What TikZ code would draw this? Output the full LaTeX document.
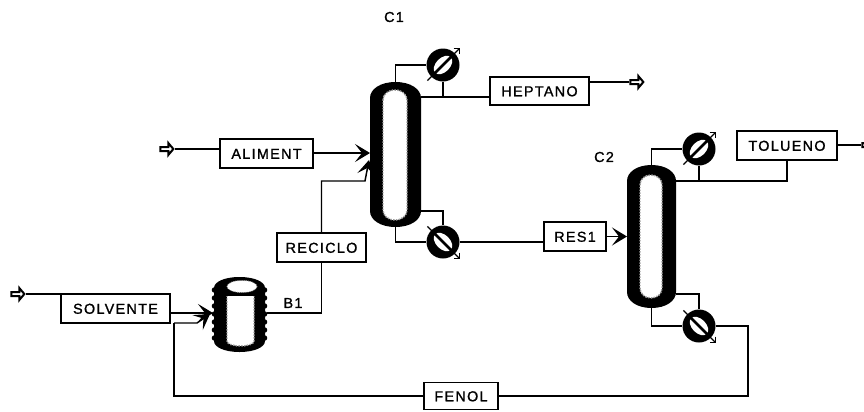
\documentclass[tikz,border=0pt]{standalone}
\usepackage{fontspec}
\setmainfont[LetterSpace=9,FakeBold=1.2]{Liberation Sans}
\usetikzlibrary{arrows.meta,shapes.arrows,calc}
\def\u{0.75pt}
\tikzset{
  x=0.75pt,y=-0.75pt,
  flow/.style={line width=1.1pt,line join=miter},
  feed/.style={flow,-{Stealth[length=15*\u,width=18*\u,inset=7*\u]}},
  lbl/.style={draw,line width=1.2pt,fill=white,inner sep=0pt,font=\fontsize{10.8}{12}\selectfont,text height=7.9pt,text depth=0pt},
  tag/.style={inner sep=0pt,font=\fontsize{10.8}{12}\selectfont},
  port/.style={single arrow,draw,fill=white,line width=1.5pt,inner sep=0pt,minimum height=13*\u,minimum width=12*\u,single arrow head extend=1.5pt,single arrow tip angle=100,shape border rotate=0},
  colanchor/.style={inner sep=0pt,minimum width=50*\u},
  hxdisk/.style={circle,fill=black,inner sep=0pt,minimum size=33*\u},
  hxline/.style={line width=1pt,-{Straight Barb[length=4*\u,width=8*\u]}},
  fuzz/.style={draw=gray!75,densely dotted,line width=1.1pt}
}
% name, x, y, rotation of the adjusting arrow
\newcommand{\hxchg}[4]{%
  \node[hxdisk] (#1) at (#2,#3) {};
  \begin{scope}[shift={(#2,#3)},rotate=#4]
    \fill[white] (0,0) ellipse (11 and 7);
    \draw[hxline] (-22,0) -- (24,0);
    \draw[line width=1.9pt] (-13,0) -- (13,0);
  \end{scope}}
% dome-ended capsule: left, top, right, bottom, end height
\newcommand{\capsule}[6]{%
  \pgfmathsetmacro\cm{(#1+#3)/2}
  \pgfmathsetmacro\ct{#2+#5}
  \pgfmathsetmacro\cb{#4-#5}
  \pgfmathsetmacro\cw{0.3*(#3-#1)}
  \path[#6] (#1,\ct) .. controls (#1,#2+0.45*#5) and (\cm-\cw,#2) .. (\cm,#2)
    .. controls (\cm+\cw,#2) and (#3,#2+0.45*#5) .. (#3,\ct)
    -- (#3,\cb) .. controls (#3,#4-0.45*#5) and (\cm+\cw,#4) .. (\cm,#4)
    .. controls (\cm-\cw,#4) and (#1,#4-0.45*#5) .. (#1,\cb) -- cycle;}
\begin{document}
\begin{tikzpicture}
\clip (0,0) rectangle (864,411);
\fill[white] (0,0) rectangle (864,411);

% columns
\node[colanchor,minimum height=145*\u] (c1) at (395.5,154.5) {};
\capsule{370}{82}{421}{227}{16}{fill=black}
\capsule{383}{90}{407}{220}{10}{fill=white,fuzz}
\node[colanchor,minimum height=143*\u] (c2) at (651.5,236.5) {};
\capsule{627}{165}{676}{308}{16}{fill=black}
\capsule{640}{175}{662}{298}{10}{fill=white,fuzz}

% vessel B1
\node[inner sep=0pt,minimum width=55*\u,minimum height=75*\u] (b1) at (239.5,314.5) {};
\capsule{214}{277}{265}{352}{11}{fill=black}
\foreach \yy in {290,298,...,340} {
  \fill[black] (214.5,\yy) circle (2.8);
  \fill[black] (264.5,\yy) circle (2.8);
}
\capsule{227}{290}{254}{346}{5}{fill=white,fuzz}
\fill[black] (224,287) rectangle (259,296);
\fill[white,draw=gray!70,densely dotted,line width=.6pt] (242,286.5) ellipse (15 and 6);

% heat exchangers
\hxchg{e1}{443}{65}{45}
\hxchg{e2}{443}{242}{-45}
\hxchg{e3}{699}{149}{45}
\hxchg{e4}{699}{326}{-45}

% boxes
\node[lbl,minimum width=99*\u,minimum height=28*\u] (hep) at (539.5,91) {HEPTANO};
\node[lbl,minimum width=93*\u,minimum height=29*\u] (ali) at (266.5,153.5) {ALIMENT};
\node[lbl,minimum width=89*\u,minimum height=29*\u] (rec) at (321.5,247.5) {RECICLO};
\node[lbl,minimum width=109*\u,minimum height=29*\u] (sol) at (115.5,308.5) {SOLVENTE};
\node[lbl,minimum width=62*\u,minimum height=29*\u] (res) at (575,236.5) {RES1};
\node[lbl,minimum width=100*\u,minimum height=29*\u] (tol) at (787,145.5) {TOLUENO};
\node[lbl,minimum width=74*\u,minimum height=27*\u] (fen) at (461,396) {FENOL};

% open ports
\node[port] (p1) at (636,82) {};
\node[port] (p2) at (166,149) {};
\node[port] (p3) at (17,294) {};
\node[port] (p4) at (868,145) {};

% tags
\node[tag] (t1) at (394,17) {C1};
\node[tag] (t2) at (604,157) {C2};
\node[tag] (t3) at (293,303) {B1};

% joints
\coordinate (j1) at (365,181);
\coordinate (j2) at (197,323);
\coordinate (j3) at (174,323);
\coordinate (j4) at (748,326);

% connectors C1
\draw[flow] (p2.east) -- (ali.west |- p2.east);
\draw[feed] (ali.east |- 0,153) -- (370,153);
\draw[feed] (rec.north) |- (j1) -- (369,160);
\draw[flow] (267,313) -| (rec.south);
\draw[flow] (c1.north) |- (e1.west);
\draw[flow] (e1.south) -- (e1.south |- 0,97);
\draw[flow] (421,97) -- (hep.west |- 0,97);
\draw[flow] (hep.east |- p1.west) -- (p1.west);
\draw[flow] (c1.south) |- (e2.west);
\draw[flow] (421,211) -| (e2.north);
\draw[flow] (e2.east) -- (res.west |- e2.east);
% connectors C2
\draw[feed] (res.east) -- (627,236.5);
\draw[flow] (c2.north) |- (e3.west);
\draw[flow] (e3.south) -- (e3.south |- 0,181);
\draw[flow] (676,181) -| (tol.south);
\draw[flow] (tol.east |- p4.west) -- (p4.west);
\draw[flow] (c2.south) |- (e4.west);
\draw[flow] (676,294) -| (e4.north);
\draw[flow] (e4.east) -| (j4) |- (fen.east);
% connectors B1
\draw[flow] (p3.east) -- (sol.west |- p3.east);
\draw[feed] (sol.east |- 0,313) -- (213,313);
\draw[flow] (fen.west) -| (j3);
\draw[feed] (j3) -- (j2) -- (210,314);
\end{tikzpicture}
\end{document}
